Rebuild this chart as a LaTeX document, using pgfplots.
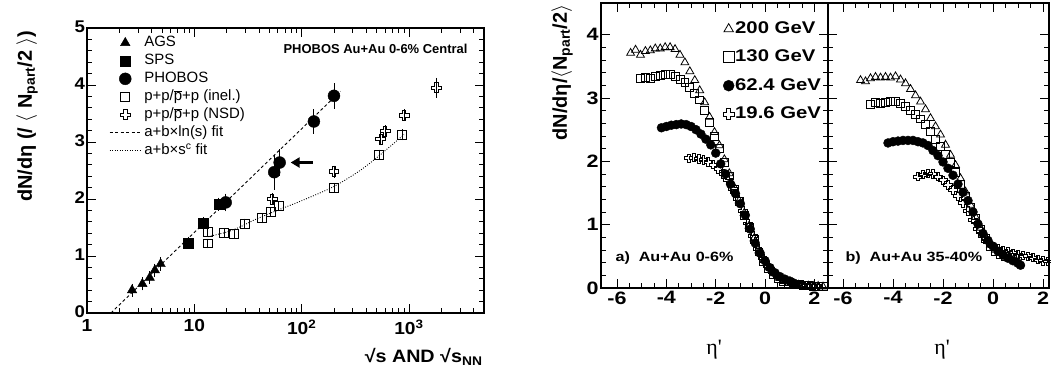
\documentclass[border=0pt]{standalone}
\usepackage{fontspec}
\setmainfont{Liberation Sans}
\newfontfamily\wide{Liberation Sans}[FakeStretch=1.2]
\newfontfamily\wideL{Liberation Sans}[FakeStretch=1.1]
\newfontfamily\serif{Liberation Serif}
\usepackage{pgfplots}
\usepackage{pgfplotstable}
\pgfplotsset{compat=1.18}
\usetikzlibrary{arrows.meta}

\pgfdeclareplotmark{ocross}{%
  \pgfpathmoveto{\pgfqpoint{-0.35\pgfplotmarksize}{\pgfplotmarksize}}%
  \pgfpathlineto{\pgfqpoint{0.35\pgfplotmarksize}{\pgfplotmarksize}}%
  \pgfpathlineto{\pgfqpoint{0.35\pgfplotmarksize}{0.35\pgfplotmarksize}}%
  \pgfpathlineto{\pgfqpoint{\pgfplotmarksize}{0.35\pgfplotmarksize}}%
  \pgfpathlineto{\pgfqpoint{\pgfplotmarksize}{-0.35\pgfplotmarksize}}%
  \pgfpathlineto{\pgfqpoint{0.35\pgfplotmarksize}{-0.35\pgfplotmarksize}}%
  \pgfpathlineto{\pgfqpoint{0.35\pgfplotmarksize}{-\pgfplotmarksize}}%
  \pgfpathlineto{\pgfqpoint{-0.35\pgfplotmarksize}{-\pgfplotmarksize}}%
  \pgfpathlineto{\pgfqpoint{-0.35\pgfplotmarksize}{-0.35\pgfplotmarksize}}%
  \pgfpathlineto{\pgfqpoint{-\pgfplotmarksize}{-0.35\pgfplotmarksize}}%
  \pgfpathlineto{\pgfqpoint{-\pgfplotmarksize}{0.35\pgfplotmarksize}}%
  \pgfpathlineto{\pgfqpoint{-0.35\pgfplotmarksize}{0.35\pgfplotmarksize}}%
  \pgfpathclose
  \pgfusepathqstroke}

% ---------- left panel data ----------
\pgfplotstableread{
x y e
2.63 0.40 0.08
3.28 0.51 0.08
3.84 0.62 0.08
4.29 0.75 0.08
4.85 0.86 0.08
}\ags
\pgfplotstableread{
x y e
8.8 1.23 0.07
12.2 1.57 0.08
16.9 1.91 0.08
}\sps
\pgfplotstableread{
x y e
19.6 1.94 0.12
55.5 2.47 0.27
62.4 2.64 0.20
130 3.36 0.18
200 3.81 0.19
}\phobos
\pgfplotstableread{
x y e
13.3 1.43 0.05
13.3 1.22 0.05
19.0 1.41 0.05
23.5 1.38 0.05
29.5 1.57 0.05
43 1.66 0.05
51.3 1.77 0.05
61.2 1.88 0.05
200 2.20 0.05
527 2.78 0.05
867 3.13 0.06
}\ppinel
\pgfplotstableread{
x y e
53 2.00 0.07
200 2.48 0.07
546 3.05 0.07
600 3.19 0.07
900 3.47 0.07
1800 3.95 0.14
}\ppnsd

% ---------- right panels data ----------
\pgfplotstableread{
x y
-5.45 3.71
-5.25 3.76
-5.05 3.68
-4.85 3.74
-4.65 3.75
-4.45 3.78
-4.25 3.78
-4.05 3.80
-3.85 3.80
-3.65 3.77
-3.45 3.68
-3.25 3.56
-3.05 3.42
-2.85 3.28
-2.65 3.12
-2.45 2.93
-2.25 2.70
-2.05 2.46
-1.85 2.25
-1.65 2.03
-1.45 1.81
-1.25 1.59
-1.05 1.38
-0.85 1.18
-0.65 0.98
-0.45 0.78
-0.25 0.59
-0.05 0.44
0.15 0.32
0.35 0.23
0.55 0.16
0.75 0.11
0.95 0.08
1.15 0.06
1.35 0.05
1.55 0.04
1.75 0.035
1.95 0.03
2.15 0.03
2.35 0.02
}\aTwoHundred
\pgfplotstableread{
x y
-5.05 3.31
-4.85 3.33
-4.65 3.31
-4.45 3.34
-4.25 3.36
-4.05 3.37
-3.85 3.37
-3.65 3.34
-3.45 3.30
-3.25 3.24
-3.05 3.16
-2.85 3.07
-2.65 2.97
-2.45 2.80
-2.25 2.62
-2.05 2.40
-1.85 2.20
-1.65 1.98
-1.45 1.77
-1.25 1.56
-1.05 1.36
-0.85 1.15
-0.65 0.95
-0.45 0.76
-0.25 0.57
-0.05 0.42
0.15 0.31
0.35 0.22
0.55 0.15
0.75 0.11
0.95 0.08
1.15 0.06
1.35 0.05
1.55 0.04
1.75 0.04
1.95 0.03
2.15 0.03
2.35 0.02
}\aOneThirty
\pgfplotstableread{
x y
-4.2 2.53
-4.0 2.55
-3.8 2.57
-3.6 2.58
-3.4 2.59
-3.2 2.58
-3.0 2.55
-2.8 2.50
-2.6 2.43
-2.4 2.35
-2.2 2.26
-2.0 2.13
-1.8 1.96
-1.6 1.80
-1.4 1.64
-1.2 1.49
-1.0 1.33
-0.8 1.15
-0.6 0.93
-0.4 0.71
-0.2 0.55
0.0 0.43
0.2 0.32
0.4 0.24
0.6 0.18
0.8 0.14
1.0 0.11
1.15 0.08
}\aSixtyTwo
\pgfplotstableread{
x y
-3.1 2.05
-2.9 2.06
-2.7 2.04
-2.5 2.02
-2.3 1.99
-2.1 1.95
-1.9 1.88
-1.7 1.80
-1.5 1.70
-1.3 1.56
-1.1 1.40
-0.9 1.22
-0.7 1.02
-0.5 0.82
-0.3 0.62
-0.1 0.47
0.1 0.35
0.3 0.26
0.5 0.19
0.7 0.14
0.9 0.10
1.1 0.08
1.3 0.06
1.5 0.05
1.7 0.04
1.9 0.03
2.1 0.03
}\aNineteen
\pgfplotstableread{
x y
-5.3 3.28
-5.1 3.26
-4.9 3.31
-4.7 3.33
-4.5 3.32
-4.3 3.33
-4.1 3.32
-3.9 3.34
-3.7 3.29
-3.5 3.23
-3.3 3.14
-3.1 3.04
-2.9 2.94
-2.7 2.82
-2.5 2.68
-2.3 2.55
-2.1 2.42
-1.9 2.26
-1.7 2.10
-1.5 1.94
-1.3 1.73
-1.1 1.52
-0.9 1.31
-0.7 1.12
-0.5 0.95
-0.3 0.80
-0.1 0.68
0.1 0.60
0.3 0.55
0.5 0.51
0.7 0.48
0.9 0.45
}\bTwoHundred
\pgfplotstableread{
x y
-4.9 2.90
-4.7 2.93
-4.5 2.92
-4.3 2.93
-4.1 2.94
-3.9 2.94
-3.7 2.92
-3.5 2.87
-3.3 2.81
-3.1 2.74
-2.9 2.67
-2.7 2.58
-2.5 2.47
-2.3 2.35
-2.1 2.23
-1.9 2.11
-1.7 1.98
-1.5 1.83
-1.3 1.63
-1.1 1.45
-0.9 1.28
-0.7 1.10
-0.5 0.93
-0.3 0.78
-0.1 0.66
0.1 0.58
0.3 0.53
0.5 0.50
}\bOneThirty
\pgfplotstableread{
x y
-4.2 2.29
-4.0 2.31
-3.8 2.32
-3.6 2.33
-3.4 2.33
-3.2 2.33
-3.0 2.31
-2.8 2.29
-2.6 2.25
-2.4 2.17
-2.2 2.09
-2.0 1.99
-1.8 1.89
-1.6 1.78
-1.4 1.64
-1.2 1.51
-1.0 1.38
-0.8 1.20
-0.6 1.01
-0.4 0.86
-0.2 0.75
0.0 0.66
0.2 0.58
0.4 0.52
0.6 0.47
0.8 0.43
1.0 0.39
1.1 0.36
}\bSixtyTwo
\pgfplotstableread{
x y
-3.0 1.76
-2.8 1.79
-2.6 1.81
-2.4 1.80
-2.2 1.76
-2.0 1.70
-1.8 1.63
-1.6 1.55
-1.4 1.45
-1.2 1.34
-1.0 1.22
-0.8 1.08
-0.6 0.94
-0.4 0.82
-0.2 0.72
0.0 0.66
0.2 0.62
0.4 0.59
0.6 0.57
0.8 0.55
1.0 0.53
1.2 0.51
1.4 0.50
1.6 0.48
1.8 0.45
2.0 0.43
2.2 0.42
}\bNineteen

\pgfplotsset{
  rootaxis/.style={
    scale only axis, anchor=south west,
    axis line style={line width=1.3bp},
    tick align=inside,
    major tick length=9bp, minor tick length=5bp,
    tick style={black, line width=0.8bp},
    clip=true,
  },
  errs/.style={error bars/.cd, y dir=both, y explicit,
    error bar style={line width=0.8bp, black},
    error mark options={black, line width=0.8bp, mark size=2bp}},
  rmark/.style={legend image code/.code={\draw[##1, mark size=5.5bp] plot coordinates {(0cm,0cm)};}},
  fitimg/.style={legend image code/.code={\draw[##1] (-0.25cm,0cm) -- (0.85cm,0cm);}},
}

\begin{document}
\begin{tikzpicture}
\useasboundingbox (0bp,0bp) rectangle (1051bp,376bp);

% ================= LEFT PANEL =================
\begin{axis}[rootaxis, at={(87bp,63bp)}, width=397bp, height=285bp,
  xmode=log, xmin=1, xmax=5000, ymin=0, ymax=5,
  xtick={1,10,100,1000}, xticklabels={1,10,10\textsuperscript{2},10\textsuperscript{3}},
  minor xtick={2,3,4,5,6,7,8,9,20,30,40,50,60,70,80,90,200,300,400,500,600,700,800,900,2000,3000,4000},
  ytick={0,1,2,3,4,5}, yticklabels={0,1,2,3,4,5}, minor y tick num=4,
  xticklabel style={font=\wideL\bfseries\fontsize{17.5}{19}\selectfont, yshift=-3bp},
  yticklabel style={font=\wideL\bfseries\fontsize{17}{19}\selectfont, xshift=1.5bp, yshift=1bp},
  legend style={draw=none, fill=none, at={(0.053,0.982)}, anchor=north west,
    inner sep=1bp, row sep=1bp, column sep=2bp,
    nodes={inner sep=1bp, text height=11bp, text depth=4bp, font=\fontsize{15}{17}\selectfont}},
  legend cell align=left,
]
\addplot[black, only marks, mark=triangle*, mark size=5.5, errs] table[x=x,y=y,y error=e] {\ags};
\addlegendentry{AGS}
\addplot[black, only marks, mark=square*, mark size=5, errs] table[x=x,y=y,y error=e] {\sps};
\addlegendentry{SPS}
\addplot[black, only marks, mark=*, mark size=6, errs] table[x=x,y=y,y error=e] {\phobos};
\addlegendentry{PHOBOS}
\addplot[black, only marks, mark=square, mark size=4.5, mark options={line width=0.9bp}, errs] table[x=x,y=y,y error=e] {\ppinel};
\addlegendentry{p+p/$\overline{\mbox{p}}$+p (inel.)}
\addplot[black, only marks, mark=ocross, mark size=5, mark options={line width=0.9bp}, errs] table[x=x,y=y,y error=e] {\ppnsd};
\addlegendentry{p+p/$\overline{\mbox{p}}$+p (NSD)}
\addplot[black, line width=0.9bp, dash pattern=on 3bp off 2.5bp, fitimg] coordinates {(1.67,0) (230,3.89)};
\addlegendentry{a+b×ln(s) fit}
\addplot[black, line width=0.9bp, dash pattern=on 0.9bp off 1.6bp, smooth, fitimg] coordinates {
(13.5,1.34) (20,1.42) (26,1.50) (37,1.64) (61,1.81) (100,1.97) (200,2.22) (350,2.50) (527,2.76) (900,3.13)};
\addlegendentry{a+b×s\textsuperscript{c} fit}
\draw[-{Triangle[length=9bp,width=10bp]}, line width=2.2bp] (axis cs:127,2.64) -- (axis cs:79,2.64);
\end{axis}

\node[anchor=east, font=\bfseries\fontsize{13}{15}\selectfont] at (471bp,327bp) {PHOBOS Au+Au 0-6\% Central};
\node[anchor=east, rotate=90, font=\bfseries\fontsize{20}{24}\selectfont] at (27bp,349bp) {dN/dη (/ $\langle$ N\textsubscript{part}/2 $\rangle$)};
\node[anchor=east, font=\wideL\bfseries\fontsize{18}{20}\selectfont] at (486bp,19bp) {√s AND √s\textsubscript{NN}};

% ================= PANEL A =================
\begin{axis}[rootaxis, at={(601bp,88bp)}, width=227bp, height=285bp,
  xmin=-6.65, xmax=2.55, ymin=0, ymax=4.5,
  xtick={-6,-4,-2,0,2}, xticklabels={-6,-4,-2,0,2}, minor x tick num=3,
  ytick={0,1,2,3,4}, yticklabels={0,1,2,3,4}, minor y tick num=4,
  xticklabel style={font=\wide\bfseries\fontsize{18}{20}\selectfont},
  yticklabel style={font=\wide\bfseries\fontsize{18}{20}\selectfont, xshift=1bp},
  legend style={draw=none, fill=none, at={(0.533,0.946)}, anchor=north west,
    inner sep=1bp, row sep=9.3bp, column sep=0bp,
    nodes={inner sep=1bp, text height=13bp, text depth=4bp, font=\wide\bfseries\fontsize{17}{19}\selectfont}},
  legend cell align=left,
]
\addplot[black, only marks, mark=triangle, mark size=4.6, mark options={line width=0.8bp}, rmark] table {\aTwoHundred};
\addlegendentry{200 GeV}
\addplot[black, only marks, mark=square, mark size=4, mark options={line width=0.8bp}, rmark] table {\aOneThirty};
\addlegendentry{130 GeV}
\addplot[black, only marks, mark=*, mark size=4.5, rmark] table {\aSixtyTwo};
\addlegendentry{62.4 GeV}
\addplot[black, only marks, mark=ocross, mark size=4.2, mark options={line width=0.8bp}, rmark] table {\aNineteen};
\addlegendentry{19.6 GeV}
\end{axis}

% ================= PANEL B =================
\begin{axis}[rootaxis, at={(828bp,88bp)}, width=221bp, height=285bp,
  xmin=-6.6, xmax=2.24, ymin=0, ymax=4.5,
  xtick={-6,-4,-2,0,2}, xticklabels={-6,-4,-2,0,2}, minor x tick num=3,
  ytick={0,1,2,3,4}, yticklabels={}, minor y tick num=4,
  xticklabel style={font=\wide\bfseries\fontsize{18}{20}\selectfont},
]
\addplot[black, only marks, mark=triangle, mark size=4.6, mark options={line width=0.8bp}] table {\bTwoHundred};
\addplot[black, only marks, mark=square, mark size=4, mark options={line width=0.8bp}] table {\bOneThirty};
\addplot[black, only marks, mark=*, mark size=4.5] table {\bSixtyTwo};
\addplot[black, only marks, mark=ocross, mark size=4.2, mark options={line width=0.8bp}] table {\bNineteen};
\end{axis}

\node[anchor=west, font=\wide\bfseries\fontsize{13.5}{15}\selectfont] at (612bp,118bp) {a)\ \ Au+Au 0-6\%};
\node[anchor=west, font=\wide\bfseries\fontsize{13.5}{15}\selectfont] at (842bp,118bp) {b)\ \ Au+Au 35-40\%};
\node[anchor=east, rotate=90, font=\bfseries\fontsize{20}{24}\selectfont] at (562bp,375bp) {dN/dη/$\langle$N\textsubscript{part}/2$\rangle$};
\node[font=\serif\fontsize{22}{26}\selectfont] at (714bp,26bp) {η'};
\node[font=\serif\fontsize{22}{26}\selectfont] at (942bp,26bp) {η'};
\end{tikzpicture}
\end{document}
